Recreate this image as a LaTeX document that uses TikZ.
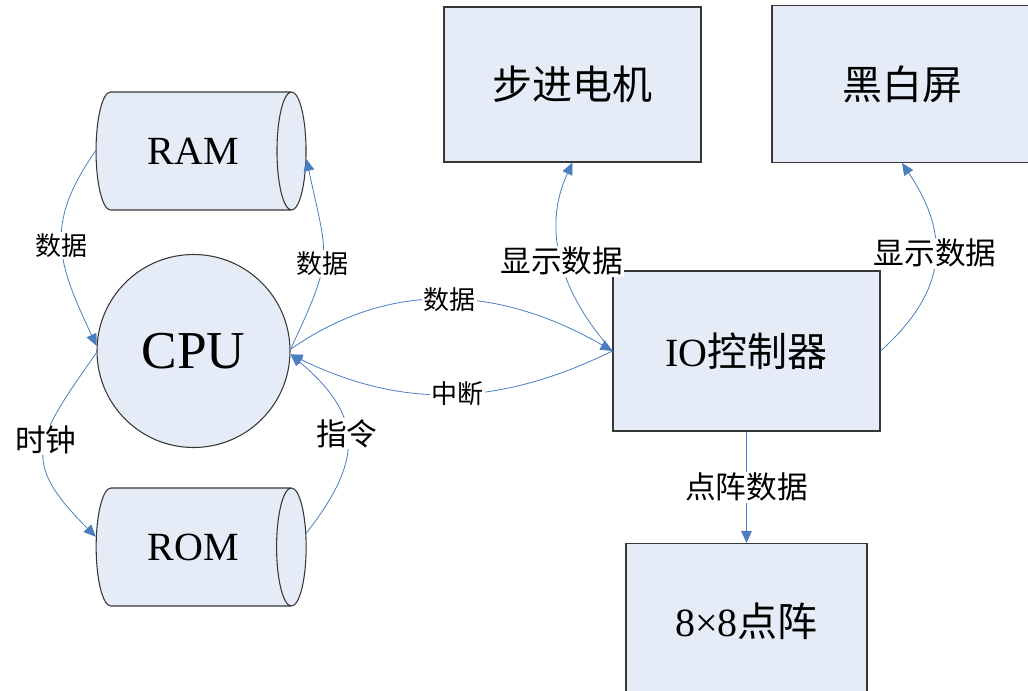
\documentclass[tikz,border=0pt]{standalone}
\usepackage{fontspec}
\setmainfont{Liberation Serif}
\newfontfamily\cjk{Noto Sans CJK SC}
\usetikzlibrary{shapes.geometric,arrows.meta}
\definecolor{boxfill}{RGB}{230,236,247}
\definecolor{linkblue}{RGB}{74,126,193}
\definecolor{boxline}{RGB}{55,55,55}
\begin{document}
\begin{tikzpicture}[x=0.75pt, y=-0.75pt,
    box/.style={draw=boxline, fill=boxfill, line width=0.8pt, inner sep=0pt,
        font=\fontsize{30}{36}\selectfont},
    cyl/.style={box, shape=cylinder, aspect=1.1, minimum width=88.5pt, minimum height=157.5pt},
    link/.style={draw=linkblue, line width=0.6pt, -{Triangle[length=9pt, width=8pt]}},
    lbl/.style={fill=white, inner sep=1pt, text=black, font=\fontsize{23}{26}\selectfont\cjk},
    slbl/.style={lbl, font=\fontsize{19.5}{22}\selectfont\cjk}]
    \useasboundingbox (0,0) rectangle (1028,691);

    \node[box, shape=circle, minimum size=144.75pt, font=\fontsize{40}{48}\selectfont] (CPU) at (193.5,351) {CPU};
    \node[cyl] (RAM) at (193.5,151) {RAM};
    \node[cyl] (ROM) at (193.5,547) {ROM};

    \node[box, minimum width=192.75pt, minimum height=116.25pt] (MOT) at (572.5,84.5) {\cjk 步进电机};
    \node[box, minimum width=195pt, minimum height=117.75pt] (SCR) at (902,84) {\cjk 黑白屏};
    \node[box, minimum width=200.25pt, minimum height=120pt] (IO) at (746.5,351) {IO{\cjk 控制器}};
    \node[box, minimum width=180.75pt, minimum height=116.25pt] (DOT) at (746.5,621) {8×8{\cjk 点阵}};

    \draw[link] (RAM.west) to[out=235, in=115, looseness=1.2] node[slbl] {数据} (CPU.177);
    \draw[link] (CPU.1) to[out=65, in=-78, looseness=1.4] node[slbl, pos=0.45] {数据} (RAM.-4);
    \draw[link] (CPU.181) to[out=235, in=135, looseness=1.5] node[lbl, pos=0.44] {时钟} (ROM.174);
    \draw[link] (ROM.7) to[out=52, in=-40, looseness=1.35] node[lbl, pos=0.53] {指令} (CPU.-2);

    \draw[link] (CPU.1) to[out=35, in=150] node[slbl, pos=0.5] {数据} (IO.west);
    \draw[link] (IO.west) to[out=206, in=-26] node[slbl, pos=0.48] {中断} (CPU.-2);

    \draw[link] (IO.west) to[out=132, in=-115] node[lbl, pos=0.5] {显示数据} (MOT.south);
    \draw[link] (IO.east) to[out=42, in=-56, looseness=1.2] node[lbl, pos=0.55] {显示数据} (SCR.south);
    \draw[link] (IO.south) -- node[lbl] {点阵数据} (DOT.north);
\end{tikzpicture}
\end{document}
